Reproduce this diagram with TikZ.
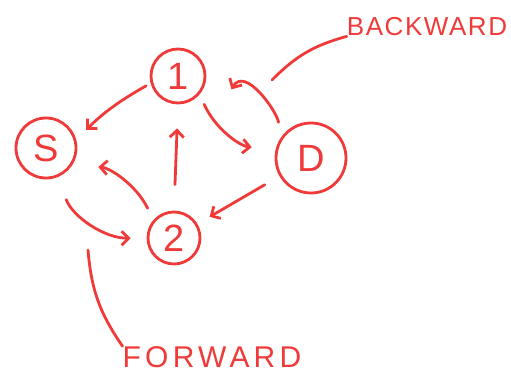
\documentclass[tikz,border=0pt]{standalone}
\usepackage{fontspec}
\usepackage{xcolor}
\newfontfamily\handfont{Liberation Sans}
\usetikzlibrary{arrows.meta}
\definecolor{penred}{RGB}{240,58,58}

\begin{document}
\begin{tikzpicture}[x=1pt, y=-1pt, >={Straight Barb[length=7pt,width=14pt]},
    vertex/.style={circle, draw=penred, line width=2.8pt, inner sep=0pt, text=penred, font=\handfont\fontsize{38}{38}\selectfont},
    flow/.style={->, draw=penred, line width=2.8pt, line cap=round},
    pointer/.style={draw=penred, line width=2.8pt, line cap=round},
    note/.style={text=penred, inner sep=0pt}]
    \useasboundingbox (0,0) rectangle (511,374);

    \node[vertex, minimum size=60pt] (S) at (46,148) {S};
    \node[vertex, minimum size=54pt] (n1) at (178,76) {1};
    \node[vertex, minimum size=52pt] (n2) at (174,238) {2};
    \node[vertex, minimum size=70pt] (D) at (311,158) {D};

    \draw[flow, shorten <=5pt, shorten >=14pt] (n1.195) to[bend right=8] (S.15);
    \draw[flow, shorten <=11pt, shorten >=24pt] (n1.320) to[bend right=30] (D.167);
    \draw[flow, shorten <=15pt] (D.145) to[out=100, in=60] ([xshift=26pt, yshift=-6pt]n1.345);
    \draw[flow, shorten <=26pt, shorten >=24pt] (n2.north) -- (n1.south);
    \draw[flow, shorten <=17pt, shorten >=14pt] (D.210) -- (n2.31);
    \draw[flow, shorten <=24pt, shorten >=16pt] (S.292) to[bend right=35] (n2.180);
    \draw[flow, shorten <=13pt, shorten >=26pt] (n2.139) to[bend right=30] (S.327);

    \node[note, font={\handfont\addfontfeature{LetterSpace=6}\fontsize{26}{26}\selectfont}] (back) at (427,27) {BACKWARD};
    \coordinate (bk) at (272,80);
    \draw[pointer] (back.south west) to[bend right=15] (bk);

    \node[note, font={\handfont\addfontfeature{LetterSpace=14}\fontsize{30}{30}\selectfont}] (fwd) at (212,357) {FORWARD};
    \coordinate (fw) at (88,250);
    \draw[pointer] (fwd.north west) to[bend left=15] (fw);
\end{tikzpicture}
\end{document}
